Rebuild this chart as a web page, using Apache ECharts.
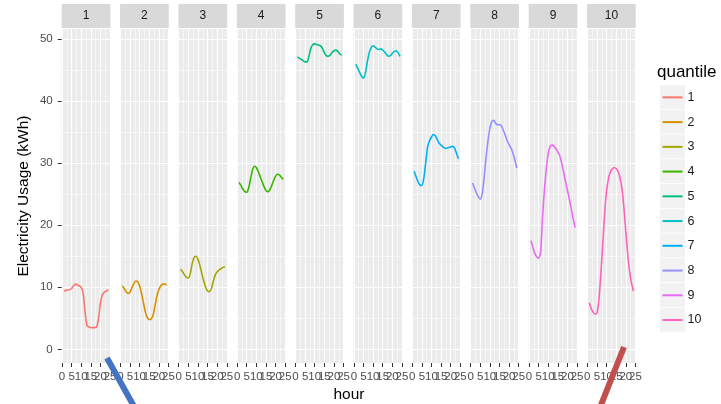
<!DOCTYPE html>
<html>
<head>
<meta charset="utf-8">
<script src="https://cdn.jsdelivr.net/npm/echarts@6/dist/echarts.min.js"></script>
<style>
html,body{margin:0;padding:0;background:#fff;}
#chart{width:721px;height:404px;}
</style>
</head>
<body>
<div id="chart"></div>
<script>
// ---- data ----
const hours = [1,2,3,4,5,6,7,8,9,10,11,12,13,14,15,16,17,18,19,20,21,22,23,24];
const quantiles = ['1','2','3','4','5','6','7','8','9','10'];
const q1  = [9.4,9.5,9.6,9.6,9.8,10.2,10.5,10.4,10.2,10.0,9.0,6.0,3.8,3.6,3.5,3.5,3.5,3.6,5.0,7.5,8.8,9.2,9.4,9.6];
const q2  = [10.2,9.8,9.3,9.0,9.2,9.9,10.6,11.0,10.9,10.2,9.0,7.5,6.0,5.1,4.8,4.9,5.5,7.0,8.6,9.6,10.2,10.5,10.5,10.4];
const q3  = [12.9,12.5,12.0,11.6,11.5,12.2,13.8,14.8,15.0,14.5,13.5,12.2,11.0,10.0,9.4,9.3,9.8,11.0,12.0,12.5,12.8,13.0,13.2,13.3];
const q4  = [26.9,26.4,25.8,25.4,25.3,26.0,27.5,28.9,29.5,29.3,28.6,27.8,27.0,26.2,25.6,25.4,25.7,26.4,27.2,27.9,28.2,28.1,27.7,27.4];
const q5  = [47.1,46.9,46.7,46.5,46.3,46.3,47.2,48.5,49.1,49.2,49.1,49.0,48.9,48.5,47.8,47.3,47.2,47.4,47.8,48.1,48.2,48.0,47.6,47.4];
const q6  = [45.9,45.3,44.6,44.0,43.7,44.5,46.3,47.8,48.6,48.9,48.7,48.4,48.3,48.4,48.2,47.9,47.5,47.2,47.3,47.7,48.0,48.1,47.8,47.2];
const q7  = [28.7,27.8,27.0,26.5,26.4,27.5,30.0,32.6,33.6,34.2,34.6,34.4,33.8,33.2,32.9,32.6,32.4,32.4,32.5,32.6,32.7,32.4,31.6,30.7];
const q8  = [26.8,26.0,25.2,24.6,24.2,25.0,27.5,30.8,33.5,35.5,36.7,36.9,36.4,36.2,36.2,36.0,35.3,34.5,33.6,33.0,32.4,31.6,30.5,29.2];
const q9  = [17.5,16.5,15.5,14.9,14.7,15.5,21.0,25.5,29.0,31.5,32.7,32.9,32.7,32.3,31.8,31.2,30.0,28.6,27.0,25.6,24.2,22.6,21.0,19.6];
const q10 = [7.5,6.6,6.0,5.7,5.8,8.0,12.0,16.8,21.8,25.5,27.5,28.6,29.1,29.3,29.1,28.6,27.6,25.8,22.8,19.0,15.2,12.5,10.6,9.4];
const usage = [q1,q2,q3,q4,q5,q6,q7,q8,q9,q10];
const xTicks = [0,5,10,15,20,25];
const xLabelsA = [0,10,20];
const xLabelsB = [5,15,25];
const xMinor = [2.5,7.5,12.5,17.5,22.5];
const yTicks = [0,10,20,30,40,50];
const yMinor = [5,15,25,35,45];
const palette = ['#F8766D','#D89000','#A3A500','#39B600','#00BF7D','#00BFC4','#00B0F6','#9590FF','#E76BF3','#FF62BC'];

// ---- layout ----
const P0 = 61.7, STEP = 58.37, PW = 48.7, PT = 29, PH = 334;
const XMIN = -0.15, XMAX = 25.15, YMIN = -2.2, YMAX = 51.6;
const FONT = '"Liberation Sans", Arial, sans-serif';

const chart = echarts.init(document.getElementById('chart'), null, {renderer:'canvas'});
const grids = [], xAxes = [], yAxes = [], series = [], graphics = [];
const n = quantiles.length;
for (let i = 0; i < n; i++) {
  const left = P0 + i * STEP;
  grids.push({left: left, top: PT, width: PW, height: PH, show: true, backgroundColor: '#ebebeb', borderWidth: 0});
  graphics.push({type:'rect', shape:{x:left, y:4, width:PW, height:24}, style:{fill:'#d9d9d9'}, silent:true});
  graphics.push({type:'text', x:left + PW/2, y:16, style:{text:quantiles[i], fill:'#1a1a1a', font:'12px ' + FONT, align:'center', verticalAlign:'middle'}, silent:true});
}
const xLabelStyle = {show:true, margin:8, color:'#4d4d4d', fontSize:11.5, fontFamily:FONT, hideOverlap:false, showMinLabel:true, showMaxLabel:true};
// major x axes (ticks, major grid, labels 0/10/20)
for (let i = 0; i < n; i++) {
  xAxes.push({type:'value', gridIndex:i, min:XMIN, max:XMAX, position:'bottom',
    axisLine:{show:false, onZero:false},
    axisTick:{show:true, length:4, lineStyle:{color:'#333333', width:1}, customValues:xTicks},
    axisLabel:Object.assign({customValues:xLabelsA}, xLabelStyle),
    splitLine:{show:true, lineStyle:{color:'#ffffff', width:1.1}}
  });
}
// minor x axes (minor grid, labels 5/15/25)
for (let i = 0; i < n; i++) {
  xAxes.push({type:'value', gridIndex:i, min:XMIN, max:XMAX, position:'bottom',
    axisLine:{show:false, onZero:false}, axisTick:{show:false, customValues:xMinor},
    axisLabel:Object.assign({customValues:xLabelsB}, xLabelStyle),
    splitLine:{show:true, lineStyle:{color:'#ffffff', width:0.55}}
  });
}
// major y axes
for (let i = 0; i < n; i++) {
  yAxes.push({type:'value', gridIndex:i, min:YMIN, max:YMAX, position:'left',
    axisLine:{show:false, onZero:false},
    axisTick:{show:i===0, length:4, lineStyle:{color:'#333333', width:1}, customValues:yTicks},
    axisLabel:{show:i===0, customValues:yTicks, margin:9, color:'#4d4d4d', fontSize:11.5, fontFamily:FONT, showMinLabel:true, showMaxLabel:true},
    splitLine:{show:true, lineStyle:{color:'#ffffff', width:1.1}}
  });
}
// minor y axes
for (let i = 0; i < n; i++) {
  yAxes.push({type:'value', gridIndex:i, min:YMIN, max:YMAX, position:'left',
    axisLine:{show:false, onZero:false}, axisTick:{show:false, customValues:yMinor}, axisLabel:{show:false, customValues:yMinor},
    splitLine:{show:true, lineStyle:{color:'#ffffff', width:0.55}}
  });
}
for (let i = 0; i < n; i++) {
  series.push({type:'line', name:quantiles[i], xAxisIndex:i, yAxisIndex:i,
    data: hours.map((h, j) => [h, usage[i][j]]),
    showSymbol:false, symbol:'none', smooth:0.25,
    lineStyle:{color:palette[i], width:1.6}, itemStyle:{color:palette[i]}, z:5, animation:false});
}
// legend key backgrounds
const LX = 660, LTOP = 85, LSTEP = 24.74;
for (let i = 0; i < n; i++) {
  graphics.push({type:'rect', shape:{x:LX, y:LTOP + i*LSTEP, width:25, height:LSTEP-0.8}, style:{fill:'#f2f2f2'}, silent:true, z:-1});
}
// axis titles
graphics.push({type:'text', x:349, y:395, style:{text:'hour', fill:'#000', font:'15.5px ' + FONT, align:'center', verticalAlign:'middle'}, silent:true});
graphics.push({type:'text', x:24, y:196, rotation:Math.PI/2, style:{text:'Electricity Usage (kWh)', fill:'#000', font:'15.5px ' + FONT, align:'center', verticalAlign:'middle'}, silent:true});
graphics.push({type:'text', x:657, y:72, style:{text:'quantile', fill:'#000', font:'17px ' + FONT, align:'left', verticalAlign:'middle'}, silent:true});
// slide annotation strokes
graphics.push({type:'line', shape:{x1:107, y1:358, x2:136, y2:410}, style:{stroke:'#4472C4', lineWidth:6}, z:100, silent:true});
graphics.push({type:'line', shape:{x1:624, y1:347, x2:599, y2:410}, style:{stroke:'#C0504D', lineWidth:6}, z:100, silent:true});

chart.setOption({
  animation:false,
  backgroundColor:'#ffffff',
  grid:grids, xAxis:xAxes, yAxis:yAxes, series:series,
  legend:{show:true, orient:'vertical', left:662.5, top:LTOP + LSTEP/2 - 7, itemWidth:20, itemHeight:2, itemGap:LSTEP-14,
    icon:'rect', data:quantiles,
    textStyle:{fontSize:12.5, lineHeight:14, color:'#1a1a1a', fontFamily:FONT},
    selectedMode:false, padding:0},
  graphic:graphics
});
</script>
</body>
</html>
